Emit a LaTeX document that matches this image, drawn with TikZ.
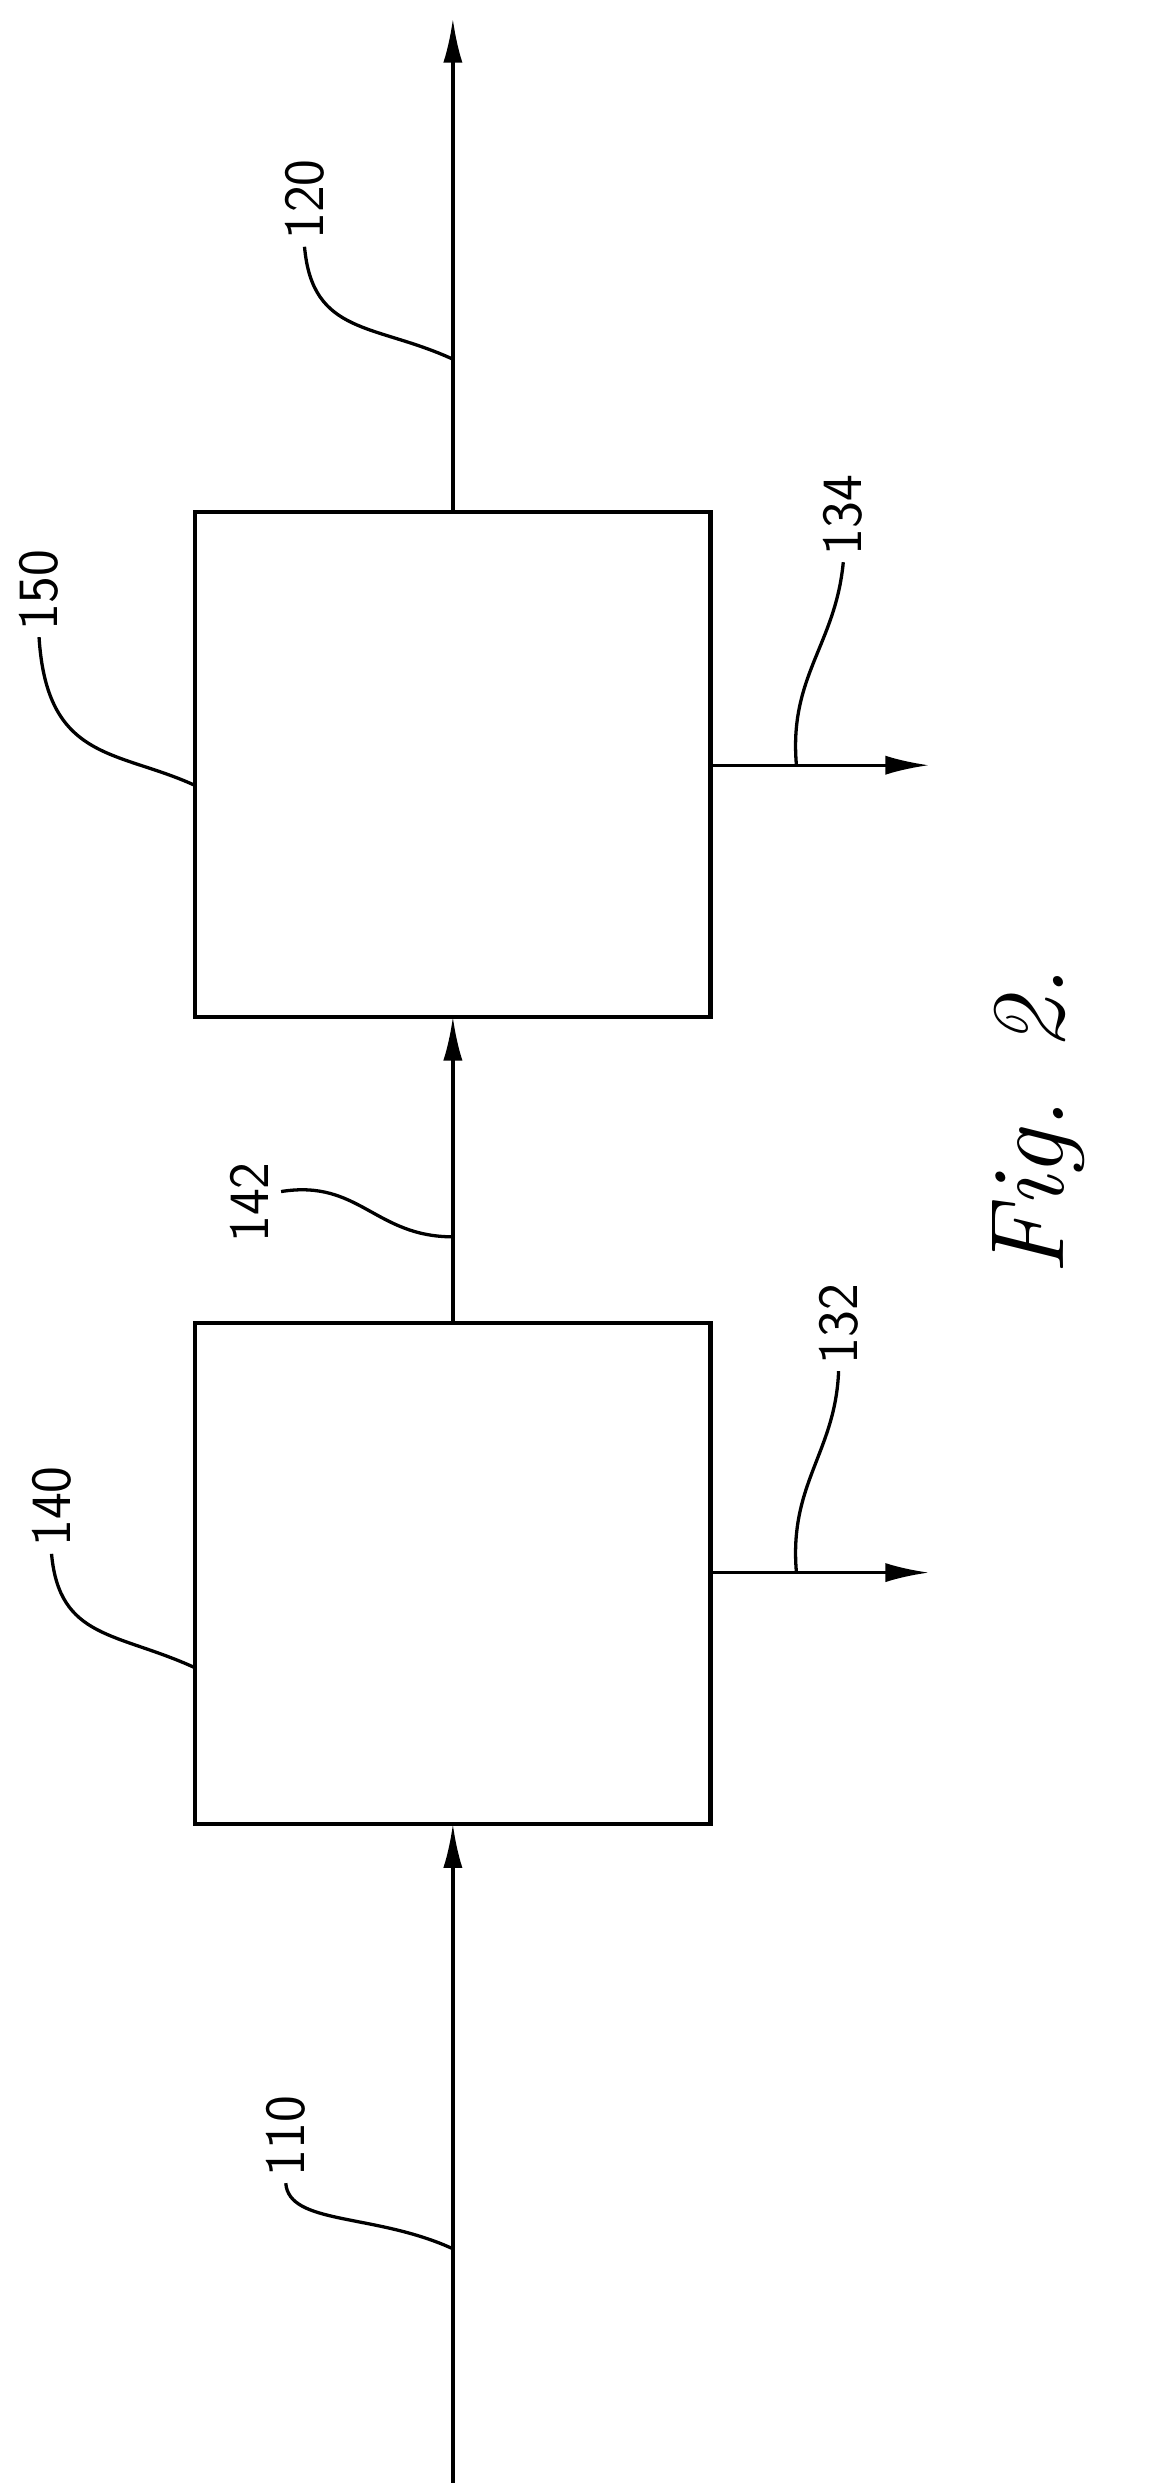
\documentclass[tikz,border=0pt]{standalone}
\usetikzlibrary{arrows.meta}
\begin{document}
\begin{tikzpicture}[x=0.02cm,y=-0.02cm,line width=1.2pt,
    flow/.style={-{Latex[length=16pt,width=7pt]}},
    unit/.style={draw,line width=1.5pt},
    lead/.style={line width=1.2pt},
    num/.style={font=\sffamily\huge,rotate=90,inner sep=2pt}]
    \useasboundingbox (0,0) rectangle (740,1590);

    \draw[unit] (125,847) rectangle (455,1168);
    \draw[unit] (125,328) rectangle (455,651);
    \coordinate (a) at (290,1590);
    \coordinate (b) at (290,1168);
    \coordinate (c) at (290,847);
    \coordinate (d) at (290,651);
    \coordinate (e) at (290,328);
    \coordinate (f) at (290,12);
    \draw[flow] (a) -- (b);
    \draw[flow] (c) -- (d);
    \draw[flow] (e) -- (f);
    \draw[flow] (455,1007) coordinate (g) -- (595,1007);
    \draw[flow] (455,490) coordinate (h) -- (595,490);

    % leaders
    \draw[lead] (290,1440) .. controls (240,1417) and (185,1425) .. (183,1398) coordinate (l110);
    \draw[lead] (125,1068) .. controls (75,1045) and (38,1050) .. (33,995) coordinate (l140);
    \draw[lead] (290,230) .. controls (240,207) and (200,215) .. (195,158) coordinate (l120);
    \draw[lead] (125,503) .. controls (75,480) and (30,488) .. (25,408) coordinate (l150);
    \draw[lead] (290,792) .. controls (240,792) and (230,755) .. (180,763) coordinate (l142);
    \draw[lead] (510,1007) .. controls (505,950) and (535,930) .. (537,878) coordinate (l132);
    \draw[lead] (510,490) .. controls (505,433) and (535,413) .. (540,360) coordinate (l134);

    \node[num,anchor=west] at (l110) {110};
    \node[num,anchor=west] at (l140) {140};
    \node[num,anchor=west] at (l120) {120};
    \node[num,anchor=west] at (l150) {150};
    \node[num] at (160,770) {142};
    \node[num,anchor=west] at (l132) {132};
    \node[num,anchor=west] at (l134) {134};
    \node[rotate=90,font=\fontsize{38}{42}\selectfont\itshape] at (665,718) {Fig. 2.};
\end{tikzpicture}
\end{document}
